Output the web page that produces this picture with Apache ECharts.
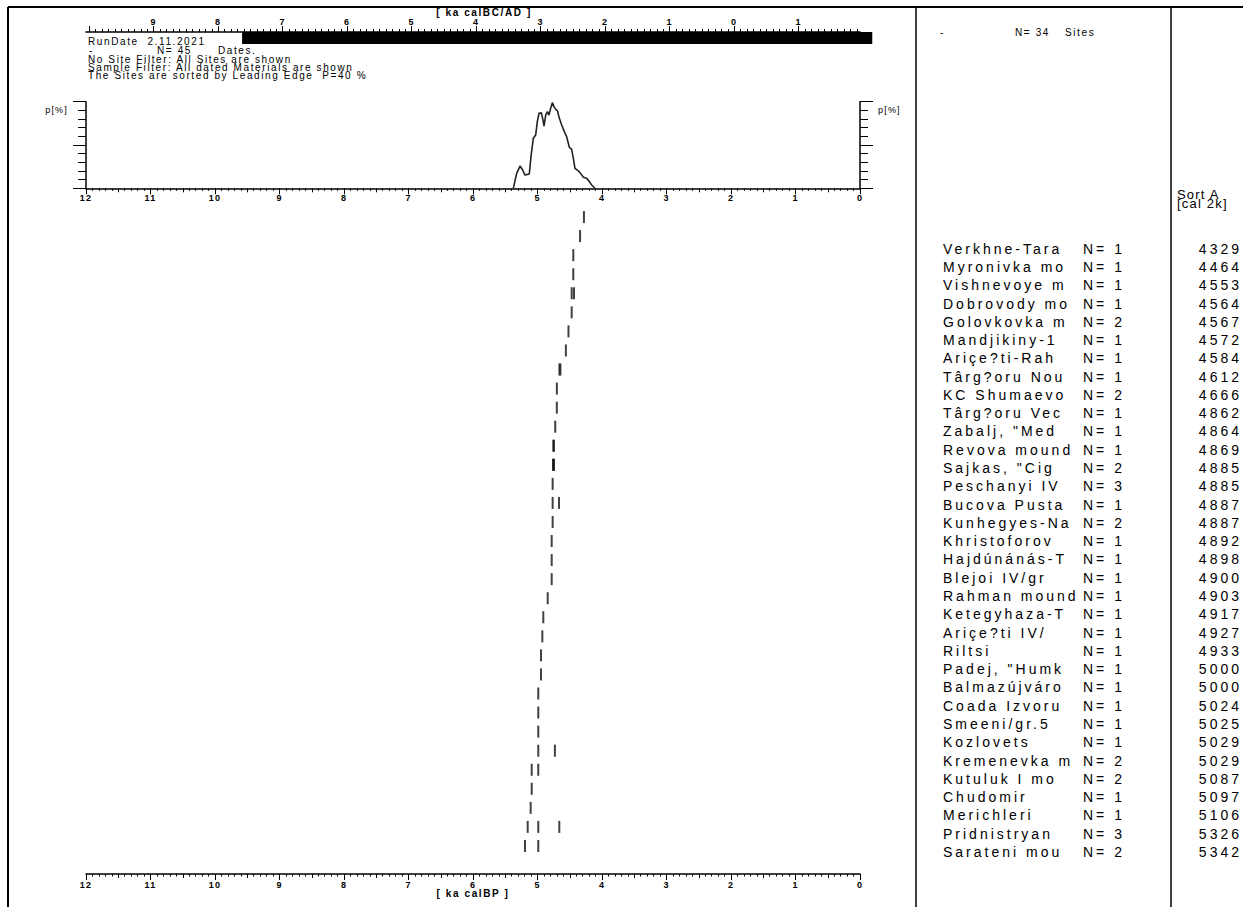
<!DOCTYPE html>
<html><head><meta charset="utf-8">
<script src="https://cdn.jsdelivr.net/npm/echarts@6.0.0/dist/echarts.min.js"></script>
<style>
html,body{margin:0;padding:0;background:#fff;}
#c{width:1243px;height:907px;}
#c text{letter-spacing:1.2px;}
#c text[style*="10px"]{letter-spacing:1.6px;}
#c text[style*="13px"]{letter-spacing:1.2px;}
#c text[style*="14px"]{letter-spacing:3px;}
</style></head><body><div id="c"></div>
<script>
// ---------- data ----------
const densityAge = [5.375,5.323,5.271,5.230,5.194,5.127,5.101,5.065,5.028,5.003,4.977,4.941,4.920,4.899,4.873,4.847,4.822,4.796,4.770,4.744,4.718,4.692,4.661,4.625,4.584,4.548,4.506,4.470,4.444,4.419,4.382,4.341,4.289,4.238,4.196,4.160,4.109];
const densityP   = [0,17.3,25.7,21.1,15.3,16.5,36.5,57.7,61.5,76.9,86.5,87.3,80.8,71.9,84.6,88.5,84.6,92.3,98.9,94.3,91.2,89.7,80.8,73.1,65.4,59.6,47.3,45.0,34.6,23.1,21.1,18.1,12.7,11.5,7.7,3.8,0];

const siteNames = ["Verkhne-Tara","Myronivka mo","Vishnevoye m","Dobrovody mo","Golovkovka m","Mandjikiny-1","Ariçe?ti-Rah","Târg?oru Nou","KC Shumaevo","Târg?oru Vec","Zabalj, \"Med","Revova mound","Sajkas, \"Cig","Peschanyi IV","Bucova Pusta","Kunhegyes-Na","Khristoforov","Hajdúnánás-T","Blejoi IV/gr","Rahman mound","Ketegyhaza-T","Ariçe?ti IV/","Riltsi","Padej, \"Humk","Balmazújváro","Coada Izvoru","Smeeni/gr.5","Kozlovets","Kremenevka m","Kutuluk I mo","Chudomir","Merichleri","Pridnistryan","Sarateni mou"];
const siteN = [1,1,1,1,2,1,1,1,2,1,1,1,2,3,1,2,1,1,1,1,1,1,1,1,1,1,1,1,2,2,1,1,3,2];
const siteSort = [4329,4464,4553,4564,4567,4572,4584,4612,4666,4862,4864,4869,4885,4885,4887,4887,4892,4898,4900,4903,4917,4927,4933,5000,5000,5024,5025,5029,5029,5087,5097,5106,5326,5342];
// dates per site in ka calBP
const siteDates = [
 [4.28],[4.34],[4.445],[4.445],[4.47,4.434],[4.47],[4.52],[4.56],[4.66,4.645],[4.70],
 [4.70],[4.725],[4.755,4.745],[4.76,4.75,4.745],[4.765],[4.765,4.667],[4.765],[4.78],[4.78],[4.78],
 [4.842],[4.91],[4.925],[4.946],[4.946],[4.988],[4.988],[4.988],[4.988,4.73],[5.09,4.988],
 [5.09],[5.106],[5.152,4.988,4.662],[5.194,4.988]
];
const bpLabels = [12,11,10,9,8,7,6,5,4,3,2,1,0];
const bcLabels = [9,8,7,6,5,4,3,2,1,0,-1];
const rangeBarBC = [7.63,-2.14];
const totalDates = 45, totalSites = 34;

// ---------- layout helpers ----------
const FONT = 'Liberation Sans';
const BLACK = '#000';
const BC_SHIFT = 1.95;
const bcMajor = []; for (let v=10; v>=-1; v--) bcMajor.push(v);
const bcMinor = []; for (let i=-19; i<=100; i++) bcMinor.push(i/10);

const listTop = 239.56, listH = 621.5;
const datesTop = 207.5, datesH = 648;
const AX_L = 86, AX_W = 774;

const lbl = (o)=>Object.assign({fontFamily:FONT,color:BLACK},o);
const intFmt = v => Math.abs(v-Math.round(v))<1e-6 ? String(Math.round(v)) : '';
const LINE = (show)=>({show:show,onZero:false,lineStyle:{color:BLACK,width:1.5}});

function bpAxis(gi, extra){
  return Object.assign({
    gridIndex:gi, type:'value', min:0, max:12, inverse:true, position:'bottom',
    interval:0.5,
    axisLine:LINE(true),
    axisTick:{show:true,length:4,lineStyle:{color:BLACK,width:1}},
    minorTick:{show:true,splitNumber:5,length:2.5,lineStyle:{color:BLACK,width:1}},
    axisLabel:lbl({show:true,fontSize:9,fontWeight:'bold',formatter:intFmt,margin:5}),
    splitLine:{show:false}, minorSplitLine:{show:false}
  }, extra||{});
}
function bpMajorOverlay(gi, extra){
  return Object.assign({
    gridIndex:gi, type:'value', min:0, max:12, inverse:true, position:'bottom', interval:1,
    axisLine:LINE(false), axisTick:{show:true,length:6,lineStyle:{color:BLACK,width:1}},
    axisLabel:{show:false}, splitLine:{show:false}
  }, extra||{});
}
function pAxis(gi, pos, major){
  return {
    gridIndex:gi, type:'value', min:0, max:100, interval:10, position:pos,
    axisLine:LINE(!major),
    axisTick: major ? {show:true,customValues:[0,50,100],length:13,lineStyle:{color:BLACK,width:1}}
                    : {show:true,length:8,lineStyle:{color:BLACK,width:1}},
    axisLabel: major ? {show:false} : lbl({show:true,customValues:[90],formatter:()=>'p[%]',fontSize:9,margin:18}),
    splitLine:{show:false}
  };
}
function hidden(gi){ return {gridIndex:gi,type:'value',min:0,max:1,show:false,axisLine:{onZero:false}}; }
function listAxis(gi,pos,data,fs){
  return {gridIndex:gi,type:'category',inverse:true,position:pos,data:data,
    axisLine:{show:false,onZero:false},axisTick:{show:false},splitLine:{show:false},
    axisLabel:lbl({show:true,interval:0,margin:0,fontSize:fs})};
}

const markData = [];
siteDates.forEach((arr,i)=>arr.forEach(a=>markData.push([a,i])));

const chart = echarts.init(document.getElementById('c'), null, {renderer:'svg'});

const gtext = (text,x,y,size,extra)=>Object.assign({type:'text',silent:true,
  style:{text:text,x:x,y:y,font:size+'px "'+FONT+'"',fill:BLACK,textVerticalAlign:'middle',verticalAlign:'middle',textAlign:'left',align:'left'}},extra||{});
const gline = (x1,y1,x2,y2,w)=>({type:'line',silent:true,shape:{x1,y1,x2,y2},style:{stroke:BLACK,lineWidth:w}});

const rulerRect = {left:AX_L,width:AX_W,top:32,height:12};
const densRect = {left:AX_L,width:AX_W,top:101.7,height:86.6};
const datesRect = {left:AX_L,width:AX_W,top:datesTop,height:datesH};
const bottomOffset = 874-(datesTop+datesH);

chart.setOption({
  animation:false,
  backgroundColor:'#fff',
  grid:[
    rulerRect, rulerRect,            // 0,1
    densRect, densRect,              // 2,3
    datesRect, datesRect,            // 4,5
    {left:942,width:1,top:listTop,height:listH},   // 6
    {left:1082,width:1,top:listTop,height:listH},  // 7
    {left:1242,width:1,top:listTop,height:listH}   // 8
  ],
  xAxis:[
    {gridIndex:0,type:'value',min:0-BC_SHIFT,max:12-BC_SHIFT,inverse:true,position:'top',
     axisLine:LINE(true),
     axisTick:{show:true,customValues:bcMajor,length:6,lineStyle:{color:BLACK,width:1}},
     axisLabel:lbl({show:true,customValues:bcLabels,formatter:v=>String(Math.abs(Math.round(v))),fontSize:9,fontWeight:'bold',margin:6}),
     splitLine:{show:false},
     name:'[ ka calBC/AD ]',nameLocation:'middle',nameGap:15,nameMoveOverlap:false,
     nameTextStyle:lbl({fontSize:10,fontWeight:'bold',padding:[0,0,0,22]})},
    {gridIndex:1,type:'value',min:0-BC_SHIFT,max:12-BC_SHIFT,inverse:true,position:'top',
     axisLine:LINE(false),axisTick:{show:true,customValues:bcMinor,length:3,lineStyle:{color:BLACK,width:1}},
     axisLabel:{show:false},splitLine:{show:false}},
    bpAxis(2),
    bpMajorOverlay(3),
    bpAxis(4,{offset:bottomOffset,axisLabel:lbl({show:true,fontSize:9,fontWeight:'bold',formatter:intFmt,margin:6.5}),
      name:'[ ka calBP ]',nameLocation:'middle',nameGap:14,nameMoveOverlap:false,nameTextStyle:lbl({fontSize:10,fontWeight:'bold'})}),
    bpMajorOverlay(5,{offset:bottomOffset}),
    hidden(6),hidden(7),hidden(8)
  ],
  yAxis:[
    hidden(0), hidden(1),
    pAxis(2,'left',false), pAxis(2,'right',false),
    pAxis(3,'left',true), pAxis(3,'right',true),
    {gridIndex:4,type:'category',inverse:true,data:siteNames,show:false,axisLine:{onZero:false}},
    hidden(5),
    listAxis(6,'right',siteNames,14),
    listAxis(7,'right',siteN.map(n=>'N= '+n),14),
    listAxis(8,'left',siteSort.map(String),14)
  ],
  series:[
    {type:'custom',xAxisIndex:0,yAxisIndex:0,silent:true,clip:false,
     data:[[rangeBarBC[0],rangeBarBC[1]]],
     renderItem:(params,api)=>{
       const a=api.coord([api.value(0),1]); const b=api.coord([api.value(1),0]);
       return {type:'rect',shape:{x:Math.min(a[0],b[0]),y:Math.min(a[1],b[1]),width:Math.abs(b[0]-a[0]),height:Math.abs(b[1]-a[1])},style:{fill:BLACK}};
     }},
    {type:'line',xAxisIndex:2,yAxisIndex:2,data:densityAge.map((a,i)=>[a,densityP[i]]),
     showSymbol:false,symbol:'none',smooth:false,lineStyle:{color:'#222',width:1.6},silent:true},
    {type:'scatter',xAxisIndex:4,yAxisIndex:6,data:markData,symbol:'rect',symbolSize:[2,12],
     itemStyle:{color:'#111'},silent:true}
  ],
  graphic:[
    gline(8,7,1243,7,2), gline(8,7,8,907,2), gline(916,7,916,907,1.5), gline(1171,7,1171,907,1.5),
    gtext('RunDate  2.11.2021',88,41.5,10),
    gtext('-',89,50.5,10), gtext('N= '+totalDates,157,50.5,10), gtext('Dates.',218,50.5,10),
    gtext('No Site Filter: All Sites are shown',88,59,10),
    gtext('Sample Filter: All dated Materials are shown',88,67.5,10),
    gtext('The Sites are sorted by Leading Edge  P=40 %',88,75,10),
    gtext('-',940,32,10), gtext('N= '+totalSites,1015,32,10), gtext('Sites',1065,32,10),
    gtext('Sort A',1177,194,13), gtext('[cal 2k]',1177,203.5,13)
  ]
});
</script></body></html>
